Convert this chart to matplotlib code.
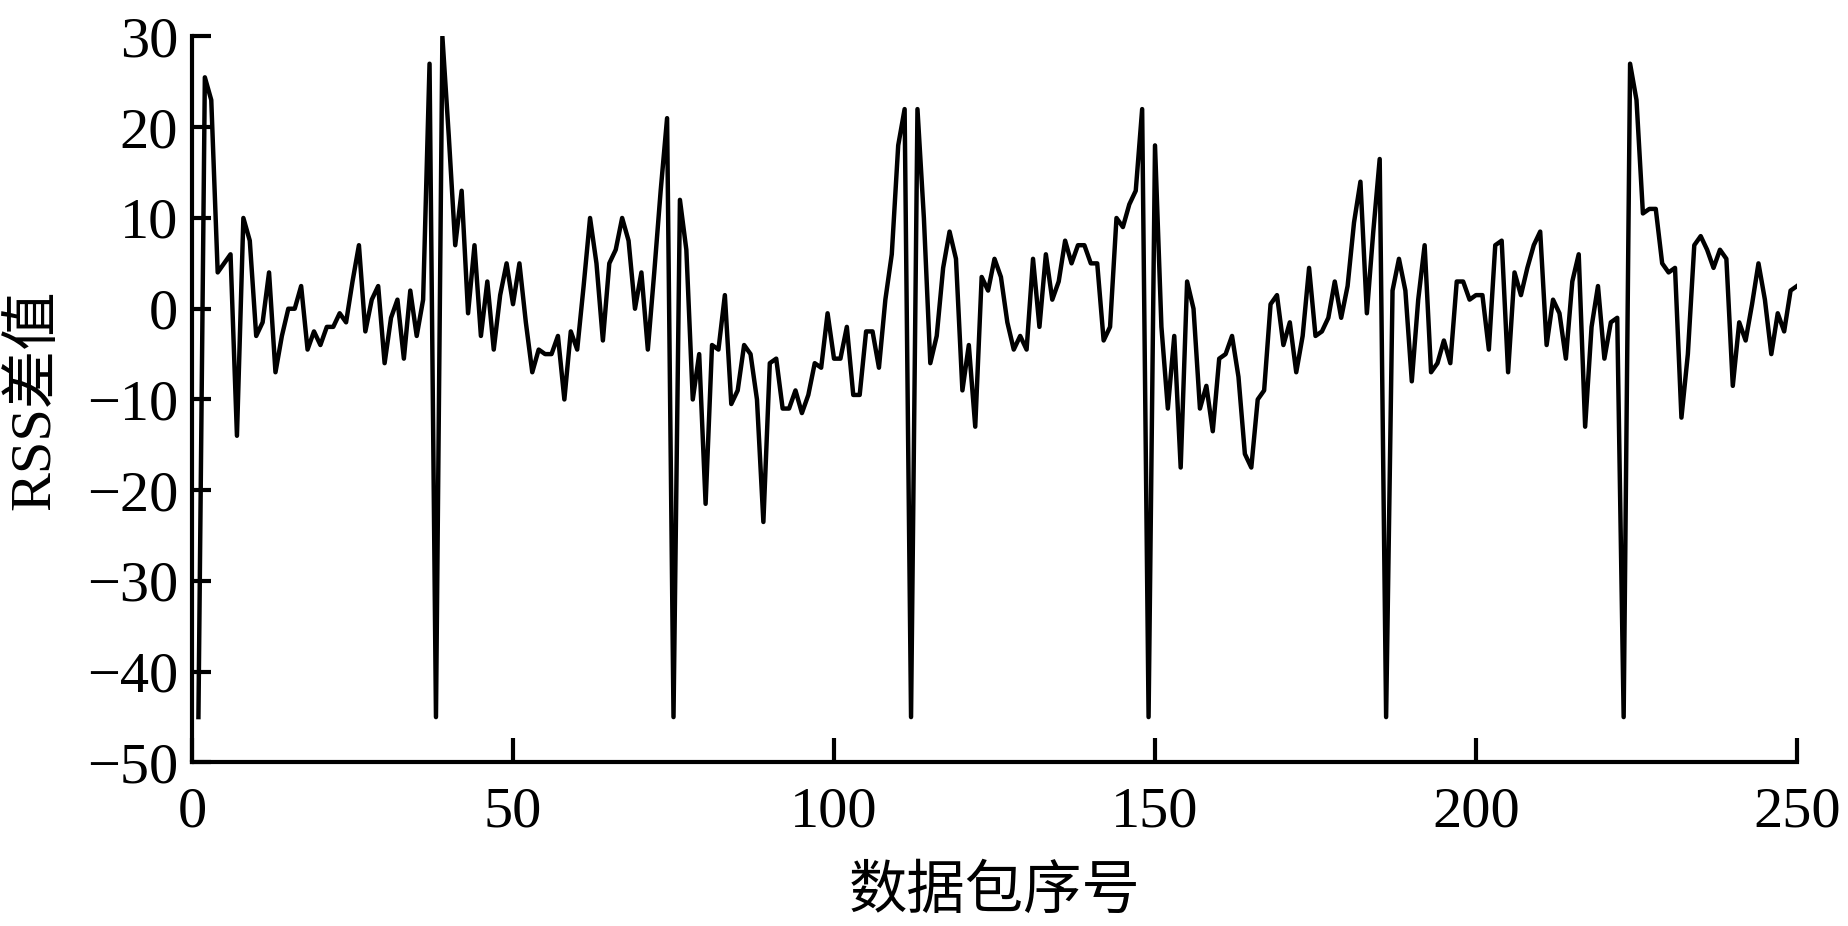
import numpy as np
import matplotlib
matplotlib.use("Agg")
import matplotlib.pyplot as plt

plt.rcParams['font.family'] = ['Liberation Serif', 'Noto Sans CJK SC']
plt.rcParams['axes.unicode_minus'] = True

# packet index 1..250
packet_idx = np.arange(1, 251)

# RSS difference per packet
rss_diff = [
    -45, 25.5, 23, 4, 5, 6, -14, 10, 7.5, -3,
    -1.5, 4, -7, -3, 0, 0, 2.5, -4.5, -2.5, -4,
    -2, -2, -0.5, -1.5, 3, 7, -2.5, 1, 2.5, -6,
    -1, 1, -5.5, 2, -3, 1, 27, -45, 30, 19,
    7, 13, -0.5, 7, -3, 3, -4.5, 1.5, 5, 0.5,
    5, -1.5, -7, -4.5, -5, -5, -3, -10, -2.5, -4.5,
    2.5, 10, 5, -3.5, 5, 6.5, 10, 7.5, 0, 4,
    -4.5, 4, 13, 21, -45, 12, 6.5, -10, -5, -21.5,
    -4, -4.5, 1.5, -10.5, -9, -4, -5, -10, -23.5, -6,
    -5.5, -11, -11, -9, -11.5, -9.5, -6, -6.5, -0.5, -5.5,
    -5.5, -2, -9.5, -9.5, -2.5, -2.5, -6.5, 1, 6, 18,
    22, -45, 22, 10, -6, -3, 4.5, 8.5, 5.5, -9,
    -4, -13, 3.5, 2, 5.5, 3.5, -1.5, -4.5, -3, -4.5,
    5.5, -2, 6, 1, 3, 7.5, 5, 7, 7, 5,
    5, -3.5, -2, 10, 9, 11.5, 13, 22, -45, 18,
    -2, -11, -3, -17.5, 3, 0, -11, -8.5, -13.5, -5.5,
    -5, -3, -7.5, -16, -17.5, -10, -9, 0.5, 1.5, -4,
    -1.5, -7, -3, 4.5, -3, -2.5, -1, 3, -1, 2.5,
    9.5, 14, -0.5, 8.5, 16.5, -45, 2, 5.5, 2, -8,
    1, 7, -7, -6, -3.5, -6, 3, 3, 1, 1.5,
    1.5, -4.5, 7, 7.5, -7, 4, 1.5, 4.5, 7, 8.5,
    -4, 1, -0.5, -5.5, 3, 6, -13, -2, 2.5, -5.5,
    -1.5, -1, -45, 27, 23, 10.5, 11, 11, 5, 4,
    4.5, -12, -5, 7, 8, 6.5, 4.5, 6.5, 5.5, -8.5,
    -1.5, -3.5, 0.5, 5, 1, -5, -0.5, -2.5, 2, 2.5,
]

x_ticks = [0, 50, 100, 150, 200, 250]
y_ticks = [-50, -40, -30, -20, -10, 0, 10, 20, 30]

fig = plt.figure(figsize=(18.48, 9.26), dpi=100)
ax = fig.add_axes([0.1039, 0.1766, 0.8685, 0.7840])

ax.plot(packet_idx, rss_diff, color='black', linewidth=3.2)

ax.set_xlim(0, 250)
ax.set_ylim(-50, 30)
ax.set_xticks(x_ticks)
ax.set_yticks(y_ticks)

for side in ['top', 'right']:
    ax.spines[side].set_visible(False)
for side in ['left', 'bottom']:
    ax.spines[side].set_linewidth(3.0)

ax.tick_params(axis='x', direction='in', length=17, width=3, labelsize=42, pad=17)
ax.tick_params(axis='y', direction='in', length=14, width=3, labelsize=42, pad=10)

ax.set_xlabel('数据包序号', fontsize=42, labelpad=20)
ax.set_ylabel('RSS差值', fontsize=42, labelpad=18)

fig.savefig('out.png', dpi=100)
